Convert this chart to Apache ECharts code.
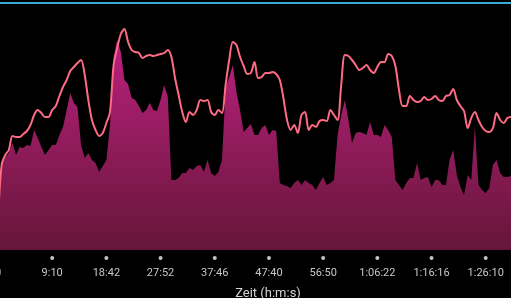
<!DOCTYPE html>
<html>
<head>
<meta charset="utf-8">
<script src="https://cdn.jsdelivr.net/npm/echarts@6/dist/echarts.min.js"></script>
<style>
html,body{margin:0;padding:0;background:#000;}
#c{width:511px;height:298px;}
</style>
</head>
<body>
<div id="c"></div>
<script>
// Tick labels shown every 15 samples
var tickLabels = ['0','9:10','18:42','27:52','37:46','47:40','56:50','1:06:22','1:16:16','1:26:10'];

// Upper (pink) line series
var lineValues = [30,85,95,100,114,113,113,116,119,125,135,140,137,133,133,140,144,154,163,170,
179,183,187,190,175,150,130,120,114,117,127,138,185,202,216,221,208,200,198,197,
192,194,195,194,195,196,197,200,193,172,155,138,128,138,135,140,150,149,150,138,
135,140,137,165,190,208,205,193,184,176,177,188,172,173,177,177,178,176,170,152,
130,120,125,117,135,138,120,125,123,129,130,129,140,135,130,165,195,194,190,185,
180,182,185,180,177,183,188,188,196,194,184,160,144,144,154,150,148,149,153,150,
151,154,150,149,154,155,161,150,144,139,122,132,138,130,123,119,118,122,137,130,
127,132,133];

// Lower (magenta) area series
var areaValues = [32,85,93,97,107,95,103,102,105,104,120,112,103,95,100,105,105,115,123,140,
157,147,143,105,92,97,90,87,78,84,90,125,193,210,198,170,166,152,150,144,
137,140,147,140,139,150,165,153,70,70,72,77,77,82,80,84,85,78,90,77,
74,78,90,162,173,185,158,140,118,122,126,115,115,122,125,115,120,119,67,65,
64,62,67,70,65,70,67,65,60,67,73,65,67,70,115,135,150,130,107,117,
118,117,115,128,115,115,113,125,120,113,70,65,60,67,72,72,87,70,72,73,
63,70,70,65,65,90,100,75,63,55,75,70,123,65,60,57,62,85,90,77,
73,73,74];

function pairs(arr){ return arr.map(function(v,i){ return [i,v]; }); }

var chart = echarts.init(document.getElementById('c'), null, {renderer:'canvas'});
chart.setOption({
  backgroundColor:'#000',
  animation:false,
  title:{
    text:'Zeit (h:m:s)',
    left:263, top:282, textAlign:'center',
    textStyle:{color:'#d4d4d4', fontSize:13, fontWeight:'normal', fontFamily:'Roboto'}
  },
  grid:{left:-2, right:0, top:3, bottom:48, containLabel:false, outerBoundsMode:'none'},
  xAxis:[{
    type:'value', min:0, max:142, interval:15,
    axisLine:{show:false}, axisTick:{show:false}, splitLine:{show:false},
    axisLabel:{
      margin:6,
      showMaxLabel:false,
      formatter:function(v){ var k=Math.round(v/15); return '{d|}\n{t|'+(tickLabels[k]||'')+'}'; },
      rich:{
        d:{width:4,height:4,borderRadius:2,backgroundColor:'#c4c4c4',align:'center'},
        t:{color:'#c8c8c8',fontSize:11,fontFamily:'Roboto',lineHeight:27,align:'center'}
      }
    }
  },{
    type:'value', position:'top', min:0, max:142,
    axisLine:{show:true,lineStyle:{color:'#3ea9d6',width:2}},
    axisTick:{show:false}, axisLabel:{show:false}, splitLine:{show:false}
  }],
  yAxis:{type:'value', min:0, max:247, show:false, splitLine:{show:false}},
  series:[{
    type:'line', data:pairs(areaValues), showSymbol:false, z:2,
    lineStyle:{width:0},
    areaStyle:{
      opacity:1,
      color:new echarts.graphic.LinearGradient(0,0,0,1,[
        {offset:0,color:'#bb207e'},{offset:1,color:'#651638'}
      ])
    }
  },{
    type:'line', data:pairs(lineValues), showSymbol:false, z:3, smooth:0.3,
    lineStyle:{width:2,color:'#ff6b84'}
  }]
});
</script>
</body>
</html>
